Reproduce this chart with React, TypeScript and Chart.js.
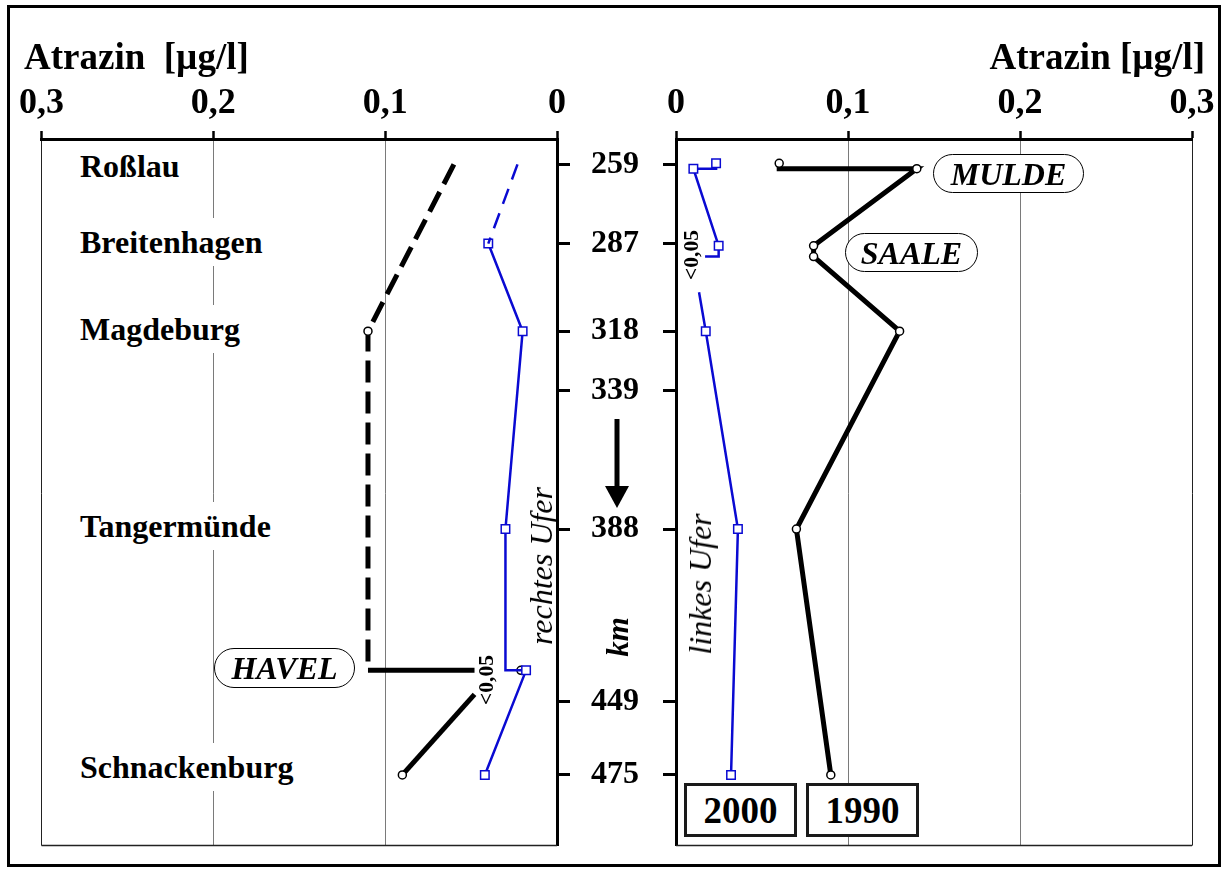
import React, { useEffect, useRef } from 'react';
import { Chart, registerables } from 'chart.js';

Chart.register(...registerables);

const FONT = "'Liberation Serif', 'Times New Roman', Times, serif";
Chart.defaults.font.family = FONT;

// ---------- axes / labels ----------
const xTicks = [0, 0.1, 0.2, 0.3];
const kmTicks = [259, 287, 318, 339, 388, 449, 475];
const kmMin = 250;
const kmMax = 500;
const stationNames = ['Roßlau', 'Breitenhagen', 'Magdeburg', 'Tangermünde', 'Schnackenburg'];
const stationY = [166, 242, 329, 526, 767];

// ---------- rechtes Ufer (left panel) ----------
const r1990UpperKm = [259, 318, 438];
const r1990UpperVal = [0.06, 0.11, 0.11];
const r1990UpperMark = [0, 1, 0];
const r1990HavelKm = [438, 438];
const r1990HavelVal = [0.11, 0.048];
const r1990LowerKm = [446.5, 475];
const r1990LowerVal = [0.048, 0.09];
const r1990LowerMark = [0, 1];
const r1990MouthKm = [438];
const r1990MouthVal = [0.021];

const r2000UpperKm = [259, 287];
const r2000UpperVal = [0.023, 0.04];
const r2000Km = [287, 318, 388, 438, 438, 475];
const r2000Val = [0.04, 0.02, 0.03, 0.03, 0.018, 0.042];
const r2000Mark = [1, 1, 1, 0, 1, 1];

// ---------- linkes Ufer (right panel) ----------
const l1990Km = [258.6, 260.5, 260.5, 287.8, 291.6, 318, 388, 475];
const l1990Val = [0.06, 0.06, 0.14, 0.08, 0.08, 0.13, 0.07, 0.09];
const l1990Mark = [1, 0, 1, 1, 1, 1, 1, 1];

const l2000UpperKm = [258.6, 260.5, 260.5, 287.8, 291.6, 291.6];
const l2000UpperVal = [0.0233, 0.0233, 0.0101, 0.0248, 0.0248, 0.0169];
const l2000UpperMark = [1, 0, 1, 1, 0, 0];
const l2000LowerKm = [304.2, 318, 388, 475];
const l2000LowerVal = [0.0134, 0.0173, 0.036, 0.032];
const l2000LowerMark = [0, 1, 1, 1];

const BLUE = '#0a0ad2';

const pts = (km: number[], val: number[]) => km.map((k, i) => ({ x: val[i], y: k }));

function ds1990(km: number[], val: number[], mark: number[] | null, dash: number[] = [], showLine = true) {
  return {
    data: pts(km, val),
    showLine,
    borderColor: '#000',
    borderWidth: 5,
    borderDash: dash,
    borderJoinStyle: 'miter',
    borderCapStyle: 'butt',
    tension: 0,
    pointStyle: 'circle',
    pointRadius: km.map((_, i) => (mark ? (mark[i] ? 4 : 0) : 4)),
    pointHoverRadius: 0,
    pointBackgroundColor: '#fff',
    pointBorderColor: '#000',
    pointBorderWidth: 1.5,
  };
}

function ds2000(km: number[], val: number[], mark: number[] | null, dash: number[] = []) {
  return {
    data: pts(km, val),
    showLine: true,
    borderColor: BLUE,
    borderWidth: 2.5,
    borderDash: dash,
    borderJoinStyle: 'miter',
    borderCapStyle: 'butt',
    tension: 0,
    pointStyle: 'rect',
    pointRadius: km.map((_, i) => (mark ? (mark[i] ? 6 : 0) : 6)),
    pointHoverRadius: 0,
    pointBackgroundColor: '#fff',
    pointBorderColor: BLUE,
    pointBorderWidth: 1.5,
  };
}

const fmtTick = (v: number) => (v === 0 ? '0' : Number(v).toFixed(1).replace('.', ','));

const bottomLine = {
  id: 'bottomLine',
  beforeDatasetsDraw(chart: any) {
    const { ctx, chartArea: a } = chart;
    ctx.save();
    ctx.strokeStyle = '#222';
    ctx.lineWidth = 1.5;
    ctx.beginPath();
    ctx.moveTo(a.left, a.bottom);
    ctx.lineTo(a.right, a.bottom);
    ctx.stroke();
    ctx.restore();
  },
};

function xScale(reverse: boolean) {
  return {
    type: 'linear',
    position: 'top',
    reverse,
    min: 0,
    max: 0.3,
    afterBuildTicks: (s: any) => {
      s.ticks = xTicks.map((v) => ({ value: v }));
    },
    afterFit: (s: any) => {
      s.height = 139;
    },
    ticks: {
      callback: (v: any) => fmtTick(v),
      font: { family: FONT, size: 36, weight: 'bold' },
      color: '#000',
      padding: 6,
      maxRotation: 0,
      autoSkip: false,
    },
    grid: {
      color: (c: any) => (c.tick && c.tick.value === 0.3 ? '#222' : '#7a7a7a'),
      lineWidth: 1,
      drawTicks: true,
      tickLength: 8,
      tickColor: '#000',
      tickWidth: 2.5,
    },
    border: { display: true, color: '#000', width: 3 },
  };
}

function yScale(position: string, width: number, showLabels: boolean) {
  return {
    type: 'linear',
    position,
    reverse: true,
    min: kmMin,
    max: kmMax,
    afterBuildTicks: (s: any) => {
      s.ticks = kmTicks.map((v) => ({ value: v }));
    },
    afterFit: (s: any) => {
      s.width = width;
      s.paddingTop = 0;
      s.paddingBottom = 0;
    },
    ticks: {
      display: showLabels,
      callback: (v: any) => String(v),
      font: { family: FONT, size: 32, weight: 'bold' },
      color: '#000',
      padding: 21,
      autoSkip: false,
    },
    grid: {
      drawOnChartArea: false,
      drawTicks: true,
      tickLength: 13,
      tickWidth: 3,
      tickColor: '#000',
    },
    border: { display: true, color: '#000', width: 3 },
  };
}

function baseOptions(scales: any, padding: any) {
  return {
    responsive: false,
    animation: false,
    events: [],
    devicePixelRatio: 1,
    layout: { padding },
    plugins: { legend: { display: false }, tooltip: { enabled: false }, title: { display: false } },
    scales,
  };
}

export default function App() {
  const leftRef = useRef<HTMLCanvasElement>(null);
  const rightRef = useRef<HTMLCanvasElement>(null);

  useEffect(() => {
    const left = new Chart(leftRef.current as HTMLCanvasElement, {
      type: 'scatter',
      data: {
        datasets: [
          ds2000(r2000UpperKm, r2000UpperVal, [0, 0], [16, 10]),
          ds2000(r2000Km, r2000Val, r2000Mark),
          ds1990(r1990MouthKm, r1990MouthVal, null, [], false),
          ds1990(r1990UpperKm, r1990UpperVal, r1990UpperMark, [22, 9]),
          ds1990(r1990HavelKm, r1990HavelVal, [0, 0]),
          ds1990(r1990LowerKm, r1990LowerVal, r1990LowerMark),
        ] as any,
      },
      options: baseOptions(
        { x: xScale(true), y: yScale('right', 103, true) },
        { left: 41.5, top: 0, right: 0, bottom: 24.4 }
      ) as any,
      plugins: [bottomLine],
    });
    const right = new Chart(rightRef.current as HTMLCanvasElement, {
      type: 'scatter',
      data: {
        datasets: [
          ds2000(l2000UpperKm, l2000UpperVal, l2000UpperMark),
          ds2000(l2000LowerKm, l2000LowerVal, l2000LowerMark),
          ds1990(l1990Km, l1990Val, l1990Mark),
        ] as any,
      },
      options: baseOptions(
        { x: xScale(false), y: yScale('left', 76, false) },
        { left: 0, top: 0, right: 29, bottom: 24.4 }
      ) as any,
      plugins: [bottomLine],
    });
    return () => {
      left.destroy();
      right.destroy();
    };
  }, []);

  const txt: React.CSSProperties = {
    position: 'absolute',
    lineHeight: 1,
    whiteSpace: 'pre',
    fontFamily: FONT,
    color: '#000',
  };
  const rot = (cx: number, cy: number, extra: React.CSSProperties): React.CSSProperties => ({
    ...txt,
    left: cx,
    top: cy,
    transform: 'translate(-50%, -50%) rotate(-90deg)',
    ...extra,
  });
  const pill = (l: number, t: number, w: number, h: number): React.CSSProperties => ({
    position: 'absolute',
    left: l,
    top: t,
    width: w,
    height: h,
    boxSizing: 'border-box',
    border: '1.5px solid #000',
    borderRadius: h / 2,
    background: '#fff',
    display: 'flex',
    alignItems: 'center',
    justifyContent: 'center',
    fontFamily: FONT,
    fontSize: 32,
    fontWeight: 'bold',
    fontStyle: 'italic',
    lineHeight: 1,
  });
  const legendBox = (l: number): React.CSSProperties => ({
    position: 'absolute',
    left: l,
    top: 783,
    width: 113,
    height: 54,
    boxSizing: 'border-box',
    border: '3px solid #1a1a1a',
    background: '#fff',
    display: 'flex',
    alignItems: 'center',
    justifyContent: 'center',
    fontFamily: FONT,
    fontSize: 37,
    fontWeight: 'bold',
    lineHeight: 1,
  });

  return (
    <div style={{ position: 'absolute', left: 0, top: 0, width: 1221, height: 870, background: '#fff', overflow: 'hidden' }}>
      <canvas ref={leftRef} width={660} height={870} style={{ position: 'absolute', left: 0, top: 0, width: 660, height: 870 }} />
      <canvas ref={rightRef} width={621} height={870} style={{ position: 'absolute', left: 600, top: 0, width: 621, height: 870 }} />

      <div style={{ ...txt, left: 24, top: 56, transform: 'translateY(-50%)', fontSize: 37, fontWeight: 'bold' }}>{'Atrazin  [µg/l]'}</div>
      <div style={{ ...txt, right: 16, top: 56, transform: 'translateY(-50%)', fontSize: 37, fontWeight: 'bold' }}>{'Atrazin [µg/l]'}</div>

      {stationNames.map((n, i) => (
        <div
          key={n}
          style={{
            ...txt,
            left: 76,
            top: stationY[i],
            transform: 'translateY(-50%)',
            fontSize: 32,
            fontWeight: 'bold',
            background: '#fff',
            padding: '8px 4px',
          }}
        >
          {n}
        </div>
      ))}

      <div style={pill(214, 648, 141, 40)}>HAVEL</div>
      <div style={pill(845, 233, 133, 39)}>SAALE</div>
      <div style={pill(933, 154, 151, 39)}>MULDE</div>

      <div style={rot(541, 566, { fontSize: 32, fontStyle: 'italic' })}>rechtes Ufer</div>
      <div style={rot(700, 584, { fontSize: 32, fontStyle: 'italic' })}>linkes Ufer</div>
      <div style={rot(617, 637, { fontSize: 31, fontStyle: 'italic', fontWeight: 'bold' })}>km</div>
      <div style={rot(486.5, 680, { fontSize: 21.5, fontWeight: 'bold' })}>{'<0,05'}</div>
      <div style={rot(691.5, 255, { fontSize: 21.5, fontWeight: 'bold' })}>{'<0,05'}</div>

      <svg width={1221} height={870} style={{ position: 'absolute', left: 0, top: 0, pointerEvents: 'none' }}>
        <line x1={617} y1={419} x2={617} y2={488} stroke="#000" strokeWidth={5} />
        <polygon points="605,486 629,486 617,508" fill="#000" />
      </svg>

      <div style={legendBox(684)}>2000</div>
      <div style={legendBox(806)}>1990</div>

      <div
        style={{
          position: 'absolute',
          left: 7,
          top: 5,
          width: 1214,
          height: 862,
          boxSizing: 'border-box',
          border: '3px solid #000',
          pointerEvents: 'none',
        }}
      />
    </div>
  );
}
